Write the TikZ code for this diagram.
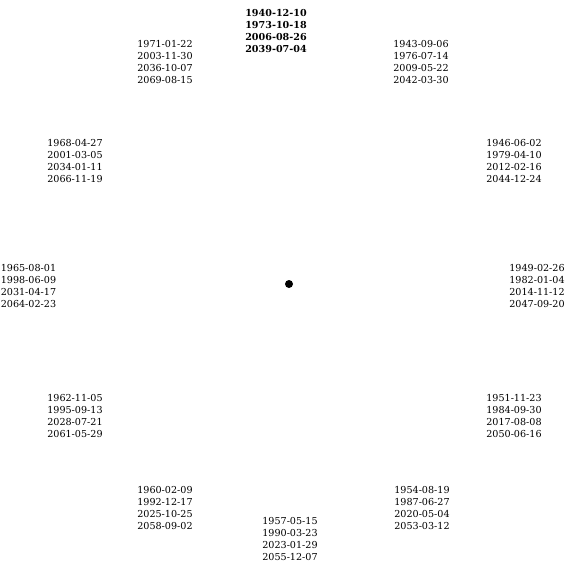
\documentclass[tikz,border=0pt]{standalone}
\usepackage{fontspec}
\setmainfont{DejaVu Serif}

\begin{document}
\begin{tikzpicture}[
		x=1pt,
		y=-1pt,
		dates/.style={
			align=center,
			inner sep=0pt,
			font=\fontsize{9.6}{11.7}\selectfont
		},
		first/.style={
			dates,
			font=\fontsize{9.6}{11.7}\selectfont\bfseries
		},
		hub/.style={circle, fill=black, inner sep=0pt, minimum size=8pt}
	]
	\useasboundingbox (0,0) rectangle (567,560);
	
	% Centre mark
	\node[hub] (hub) at (289,284) {};
	
	% Dial positions, clockwise from the top
	\node[first] (d12) at (276,31) {1940-12-10\\1973-10-18\\2006-08-26\\2039-07-04};
	\node[dates] (d1) at (421,62) {1943-09-06\\1976-07-14\\2009-05-22\\2042-03-30};
	\node[dates] (d2) at (514,161) {1946-06-02\\1979-04-10\\2012-02-16\\2044-12-24};
	\node[dates] (d3) at (537,286) {1949-02-26\\1982-01-04\\2014-11-12\\2047-09-20};
	\node[dates] (d4) at (514,416) {1951-11-23\\1984-09-30\\2017-08-08\\2050-06-16};
	\node[dates] (d5) at (422,508) {1954-08-19\\1987-06-27\\2020-05-04\\2053-03-12};
	\node[dates] (d6) at (290,539) {1957-05-15\\1990-03-23\\2023-01-29\\2055-12-07};
	\node[dates] (d7) at (165,508) {1960-02-09\\1992-12-17\\2025-10-25\\2058-09-02};
	\node[dates] (d8) at (75,416) {1962-11-05\\1995-09-13\\2028-07-21\\2061-05-29};
	\node[dates] (d9) at (28.5,286) {1965-08-01\\1998-06-09\\2031-04-17\\2064-02-23};
	\node[dates] (d10) at (75,161) {1968-04-27\\2001-03-05\\2034-01-11\\2066-11-19};
	\node[dates] (d11) at (165,62) {1971-01-22\\2003-11-30\\2036-10-07\\2069-08-15};
	
\end{tikzpicture}
\end{document}
